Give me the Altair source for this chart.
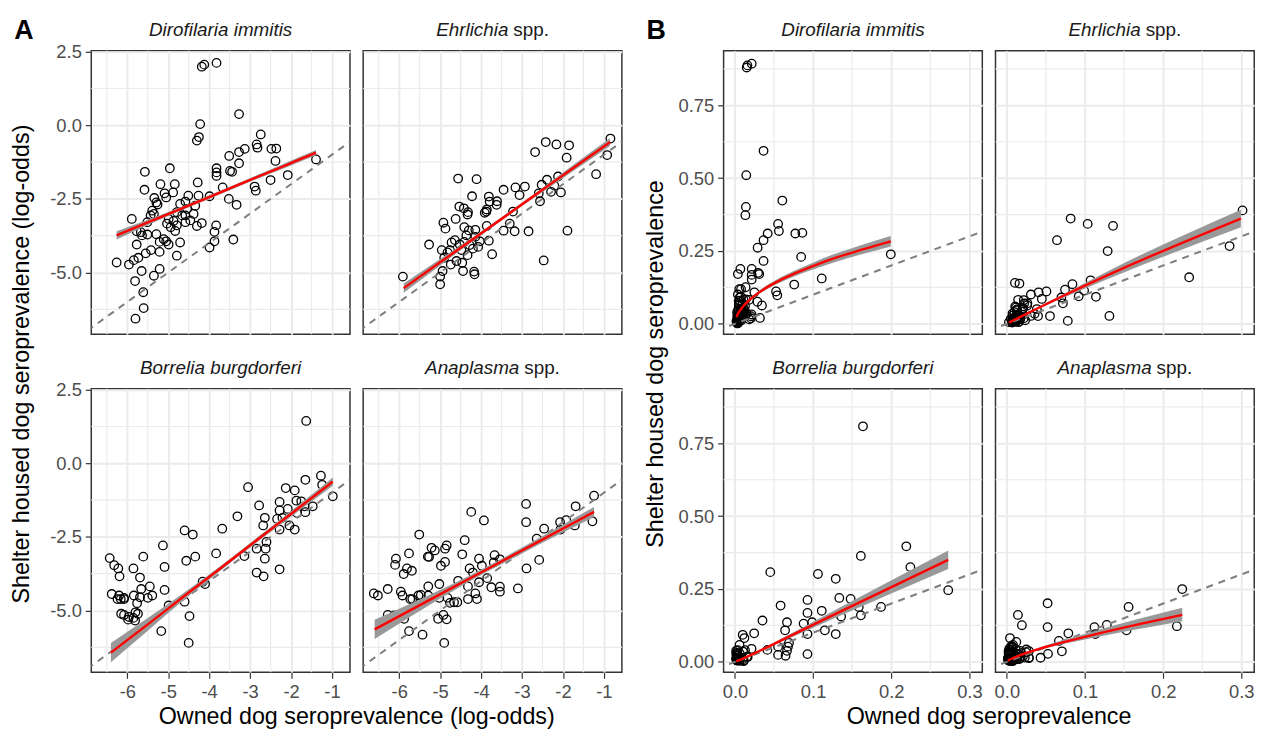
import altair as alt
import pandas as pd

FONT = "Liberation Sans"
W, H = 261, 286

# ---- points (log-odds): (owned, shelter) ----
dir_pts = [(-3.82, 2.12), (-4.18, 1.99), (-4.12, 2.06), (-3.27, 0.38), (-4.22, 0.04), (-4.25, -0.40),
           (-4.30, -0.52), (-2.74, -0.31), (-3.13, -0.80), (-3.27, -0.91), (-2.84, -0.65), (-2.82, -0.76),
           (-2.48, -0.80), (-2.36, -0.79), (-2.38, -1.21), (-1.39, -1.16), (-2.08, -1.69), (-2.50, -1.86),
           (-2.89, -2.08), (-2.86, -2.22), (-3.27, -1.29), (-3.51, -1.04), (-3.49, -1.55), (-3.44, -1.58),
           (-3.82, -1.46), (-3.82, -1.60), (-3.82, -1.72), (-3.67, -2.11), (-3.52, -2.50), (-3.33, -2.70),
           (-3.99, -2.41), (-4.28, -1.94), (-3.41, -3.88), (-3.83, -3.40), (-3.87, -3.62), (-3.87, -3.94),
           (-3.99, -4.15), (-4.96, -1.46), (-4.84, -2.00), (-4.88, -2.28), (-5.09, -2.31), (-5.19, -2.00),
           (-5.34, -2.47), (-5.26, -2.69), (-5.29, -2.62), (-5.39, -2.90), (-5.35, -3.01), (-5.57, -1.58),
           (-5.58, -2.19), (-5.89, -3.18), (-5.77, -3.60), (-5.67, -3.63), (-5.64, -3.74), (-5.51, -3.71),
           (-5.51, -3.29), (-5.43, -3.06), (-5.77, -4.05), (-5.55, -4.35), (-5.73, -4.50), (-5.84, -4.58),
           (-5.96, -4.73), (-6.26, -4.66), (-5.42, -4.24), (-5.29, -3.70), (-5.21, -4.30), (-5.21, -3.96),
           (-5.11, -3.87), (-4.99, -4.05), (-5.05, -3.94), (-5.35, -5.11), (-5.21, -4.88), (-5.65, -4.95),
           (-5.81, -5.29), (-5.61, -5.67), (-5.60, -6.21), (-5.80, -6.57), (-4.79, -4.43), (-4.71, -3.98),
           (-5.03, -3.34), (-4.94, -3.46), (-4.83, -3.59), (-4.79, -3.40), (-4.87, -3.25), (-4.99, -3.18),
           (-4.66, -3.06), (-4.58, -3.06), (-4.54, -2.84), (-4.46, -3.23), (-4.38, -3.01), (-4.34, -2.73),
           (-4.30, -3.42), (-4.18, -3.32), (-4.26, -2.39), (-4.51, -2.39), (-4.58, -2.59), (-4.71, -2.67),
           (-4.79, -2.95), (-4.58, -3.29), (-5.05, -2.45)]

ehr_pts = [(-0.84, -0.45), (-0.92, -1.01), (-1.19, -1.66), (-1.89, -3.58), (-2.42, -0.57), (-2.16, -0.65),
           (-1.85, -0.68), (-2.68, -0.91), (-1.91, -1.10), (-2.12, -1.74), (-2.39, -1.85), (-2.52, -2.02),
           (-2.59, -2.31), (-2.56, -2.58), (-2.29, -2.26), (-2.05, -2.28), (-2.21, -2.05), (-2.93, -2.08),
           (-3.06, -2.37), (-3.16, -2.11), (-3.45, -2.19), (-3.22, -2.93), (-3.30, -3.34), (-3.45, -3.58),
           (-3.18, -3.60), (-2.84, -3.60), (-2.47, -4.59), (-3.73, -4.38), (-3.81, -3.92), (-3.86, -3.42),
           (-3.61, -2.58), (-3.79, -2.59), (-3.62, -2.70), (-3.86, -2.86), (-3.91, -2.97), (-4.11, -1.83),
           (-4.56, -1.81), (-4.22, -2.41), (-4.53, -2.76), (-4.42, -2.82), (-4.32, -2.95), (-4.33, -3.03),
           (-4.62, -3.18), (-4.92, -3.31), (-4.87, -3.51), (-4.41, -3.46), (-4.30, -3.57), (-4.14, -3.55),
           (-4.14, -3.79), (-4.36, -3.74), (-4.41, -3.96), (-4.28, -4.07), (-4.03, -3.94), (-4.20, -4.19),
           (-4.33, -4.41), (-4.48, -4.24), (-4.72, -3.98), (-4.76, -4.24), (-4.82, -4.32), (-4.90, -4.50),
           (-4.74, -4.73), (-4.60, -4.61), (-4.46, -4.67), (-4.44, -4.95), (-4.17, -4.97), (-4.16, -5.06),
           (-4.94, -4.95), (-5.00, -5.14), (-5.00, -5.40), (-5.27, -4.05), (-5.91, -5.14), (-3.81, -2.42),
           (-3.87, -2.93), (-4.96, -4.24), (-4.64, -3.90), (-4.52, -4.05), (-4.07, -4.13)]

bor_pts = [(-1.63, 1.44), (-1.27, -0.42), (-1.24, -0.73), (-0.98, -1.12), (-1.65, -0.56), (-2.13, -0.84),
           (-1.91, -0.92), (-3.05, -0.81), (-1.87, -1.27), (-1.75, -1.29), (-1.67, -1.46), (-1.47, -1.46),
           (-1.85, -1.69), (-1.65, -1.66), (-2.08, -1.55), (-2.28, -1.31), (-2.28, -1.60), (-2.34, -1.89),
           (-2.21, -1.85), (-2.04, -2.11), (-2.28, -2.25), (-1.91, -2.25), (-2.64, -1.85), (-2.68, -2.11),
           (-2.78, -1.43), (-3.31, -1.80), (-2.60, -2.67), (-2.84, -2.90), (-2.62, -2.90), (-2.64, -3.24),
           (-3.14, -3.15), (-2.28, -3.60), (-2.84, -3.71), (-2.67, -3.84), (-3.68, -2.22), (-3.83, -3.06),
           (-4.16, -4.02), (-4.10, -4.10), (-4.60, -2.28), (-4.40, -2.42), (-4.56, -3.31), (-4.34, -3.17),
           (-5.13, -2.79), (-5.09, -3.52), (-5.09, -4.30), (-4.99, -4.83), (-4.60, -4.70), (-4.48, -5.19),
           (-4.50, -6.10), (-5.17, -5.70), (-5.61, -3.17), (-5.85, -3.57), (-5.69, -3.88), (-5.45, -4.18),
           (-5.66, -4.27), (-5.39, -4.49), (-5.50, -4.57), (-5.69, -4.55), (-5.84, -4.49), (-5.76, -4.75),
           (-5.80, -5.06), (-5.74, -5.11), (-5.85, -5.25), (-5.81, -5.34), (-5.96, -5.22), (-6.08, -5.15),
           (-6.15, -5.11), (-5.98, -5.31), (-6.08, -4.57), (-6.20, -4.49), (-6.24, -4.61), (-6.16, -4.61),
           (-6.08, -4.61), (-6.38, -4.44), (-6.19, -3.84), (-6.22, -3.57), (-6.32, -3.46), (-6.43, -3.22)]

ana_pts = [(-1.24, -1.10), (-1.28, -1.97), (-1.69, -1.46), (-1.71, -2.11), (-1.92, -1.93), (-2.07, -2.00),
           (-2.06, -2.25), (-2.46, -2.22), (-2.64, -2.56), (-2.58, -3.28), (-2.90, -1.38), (-2.90, -2.00),
           (-2.89, -3.57), (-3.10, -4.25), (-3.54, -4.19), (-3.54, -4.36), (-3.75, -4.21), (-3.85, -3.90),
           (-3.54, -3.26), (-3.67, -3.12), (-3.69, -3.37), (-3.93, -1.94), (-4.24, -1.65), (-4.40, -2.61),
           (-4.46, -3.09), (-4.28, -3.57), (-4.05, -3.24), (-3.98, -3.48), (-4.20, -3.71), (-4.05, -4.04),
           (-4.32, -4.18), (-4.14, -4.42), (-4.10, -4.61), (-4.32, -4.61), (-4.56, -3.99), (-4.84, -2.79),
           (-4.88, -2.90), (-4.88, -3.35), (-4.98, -3.48), (-5.02, -4.10), (-5.02, -4.57), (-4.82, -4.57),
           (-4.66, -4.72), (-4.76, -4.74), (-5.05, -5.28), (-4.92, -5.15), (-4.84, -5.30), (-4.90, -6.10),
           (-5.21, -2.87), (-5.13, -2.96), (-5.30, -3.17), (-5.27, -3.18), (-5.51, -2.42), (-5.29, -4.18),
           (-5.47, -4.47), (-5.68, -4.61), (-5.73, -4.61), (-5.76, -3.06), (-5.81, -3.57), (-5.69, -3.65),
           (-5.89, -3.76), (-6.08, -3.24), (-6.10, -3.45), (-5.96, -4.36), (-5.92, -4.49), (-5.88, -5.28),
           (-6.12, -5.17), (-6.28, -5.15), (-6.28, -4.27), (-6.62, -4.42), (-6.52, -4.49), (-5.76, -5.70),
           (-5.43, -5.82), (-5.29, -4.49), (-5.53, -4.49), (-4.58, -4.72)]

# ---- fitted lines and confidence bands (log-odds) ----
dir_fit_x = [-6.26, -5.5, -4.75, -4.0, -3.25, -2.8, -2.5, -2.2, -1.95, -1.65, -1.39]
dir_fit_y = [-3.74, -3.30, -2.87, -2.44, -2.00, -1.74, -1.57, -1.40, -1.25, -1.08, -0.93]
dir_fit_lo = [-3.88, -3.39, -2.93, -2.50, -2.06, -1.805, -1.64, -1.475, -1.33, -1.165, -1.02]
dir_fit_hi = [-3.60, -3.21, -2.81, -2.38, -1.94, -1.675, -1.50, -1.325, -1.17, -0.995, -0.84]

ehr_fit_x = [-5.89, -5.0, -4.2, -3.4, -2.6, -1.8, -0.85]
ehr_fit_y = [-5.53, -4.65, -3.87, -3.08, -2.29, -1.50, -0.57]
ehr_fit_lo = [-5.69, -4.76, -3.94, -3.14, -2.36, -1.60, -0.70]
ehr_fit_hi = [-5.37, -4.54, -3.80, -3.02, -2.22, -1.40, -0.44]

bor_fit_x = [-6.40, -5.5, -4.6, -3.7, -2.8, -1.9, -0.98]
bor_fit_y = [-6.43, -5.47, -4.50, -3.54, -2.57, -1.61, -0.62]
bor_fit_lo = [-6.76, -5.69, -4.62, -3.62, -2.65, -1.71, -0.76]
bor_fit_hi = [-6.10, -5.25, -4.38, -3.46, -2.49, -1.51, -0.48]

ana_fit_x = [-6.60, -5.7, -4.8, -3.9, -3.0, -2.1, -1.24]
ana_fit_y = [-5.64, -4.97, -4.30, -3.63, -2.96, -2.29, -1.65]
ana_fit_lo = [-5.97, -5.19, -4.43, -3.72, -3.06, -2.42, -1.82]
ana_fit_hi = [-5.31, -4.75, -4.17, -3.54, -2.86, -2.16, -1.48]

# ---- axes ----
a_x_domain = [-6.88, -0.56]
a_y_domain = [-7.1, 2.53]
a_x_ticks = [-6, -5, -4, -3, -2, -1]
a_y_ticks = [2.5, 0.0, -2.5, -5.0]
a_x_minor = [-6.5, -5.5, -4.5, -3.5, -2.5, -1.5]
a_y_minor = [1.25, -1.25, -3.75, -6.25]
a_diag = [-8, 3]

b_x_domain = [-0.0145, 0.3165]
b_y_domain = [-0.036, 0.937]
b_x_ticks = [0.0, 0.1, 0.2, 0.3]
b_y_ticks = [0.0, 0.25, 0.5, 0.75]
b_x_minor = [0.05, 0.15, 0.25]
b_y_minor = [0.125, 0.375, 0.625, 0.875]
b_diag = [-0.1, 1.0]

titles = {
    "dir": [("Dirofilaria immitis", "italic", 0, "center")],
    "ehr": [("Ehrlichia", "italic", 16, "right"), ("spp.", "normal", 21, "left")],
    "bor": [("Borrelia burgdorferi", "italic", 0, "center")],
    "ana": [("Anaplasma", "italic", 27, "right"), ("spp.", "normal", 32, "left")],
}

MINUS = "\u2212"


def panel(pts, fx, fy, flo, fhi, key, prob, show_x, show_y, xtitle=None, ytitle=None, letter=None):
    if prob:
        xd, yd, xt, yt, xm, ym, dg = b_x_domain, b_y_domain, b_x_ticks, b_y_ticks, b_x_minor, b_y_minor, b_diag
        xf, yf = ".1f", ".2f"
        tf = "1/(1+exp(-datum.{}))"
    else:
        xd, yd, xt, yt, xm, ym, dg = a_x_domain, a_y_domain, a_x_ticks, a_y_ticks, a_x_minor, a_y_minor, a_diag
        xf, yf = "d", ".1f"
        tf = "datum.{}"

    common = dict(grid=True, gridColor="#EBEBEB", gridWidth=2, domain=False,
                  tickSize=6, tickColor="#333333", tickWidth=1.2, labelPadding=4,
                  labelFontSize=18.5, labelColor="#4D4D4D", labelFont=FONT,
                  labelOverlap=False, labelFlush=False)
    xa = dict(common, values=xt, labels=show_x, ticks=show_x,
              labelExpr=f"replace(format(datum.value, '{xf}'), '{MINUS}', '-')")
    ya = dict(common, values=yt, labels=show_y, ticks=show_y,
              labelExpr=f"replace(format(datum.value, '{yf}'), '{MINUS}', '-')")
    tstyle = dict(titleFont=FONT, titleFontSize=23.5, titleColor="black", titleFontWeight="normal",
                  titleAlign="center", titleBaseline="alphabetic")
    if xtitle:
        xa.update(tstyle, title=xtitle, titleX=267.3, titleY=52)
    if ytitle:
        ya.update(tstyle, title=ytitle, titleX=(-63.3 if not prob else -61.5), titleY=315.5, titleAngle=270)
    xaxis = alt.Axis(**xa)
    yaxis = alt.Axis(**ya)
    xs = alt.Scale(domain=xd, nice=False, zero=False)
    ys = alt.Scale(domain=yd, nice=False, zero=False)

    def X(f):
        if xtitle:
            return alt.X(f, type="quantitative", scale=xs, axis=xaxis)
        return alt.X(f, type="quantitative", scale=xs, axis=xaxis, title=None)

    def Y(f):
        if ytitle:
            return alt.Y(f, type="quantitative", scale=ys, axis=yaxis)
        return alt.Y(f, type="quantitative", scale=ys, axis=yaxis, title=None)

    pdf = pd.DataFrame(pts, columns=["lx", "ly"])
    fdf = pd.DataFrame({"fx": fx, "fy": fy, "flo": flo, "fhi": fhi})
    ddf = pd.DataFrame({"d": dg})

    vminor = alt.Chart(pd.DataFrame({"v": xm})).mark_rule(color="#EBEBEB", strokeWidth=1.2).encode(x=X("v"))
    hminor = alt.Chart(pd.DataFrame({"v": ym})).mark_rule(color="#EBEBEB", strokeWidth=1.2).encode(y=Y("v"))

    points = alt.Chart(pdf).transform_calculate(
        xv=tf.format("lx"), yv=tf.format("ly")
    ).mark_point(shape="circle", filled=False, color="black", size=74, strokeWidth=1.3, opacity=1).encode(
        x=X("xv:Q"), y=Y("yv:Q"))

    diag = alt.Chart(ddf).mark_line(clip=True, color="#7F7F7F", strokeWidth=2, strokeDash=[7, 6]).encode(
        x=X("d:Q"), y=Y("d:Q"))

    fitc = alt.Chart(fdf).transform_calculate(
        xv=tf.format("fx"), yv=tf.format("fy"), lo=tf.format("flo"), hi=tf.format("fhi"))
    band = fitc.mark_area(color="#999999", opacity=1, interpolate="monotone").encode(
        x=X("xv:Q"), y=Y("lo:Q"), y2="hi:Q")
    line = fitc.mark_line(color="#FF0000", strokeWidth=2.4, interpolate="monotone").encode(
        x=X("xv:Q"), y=Y("yv:Q"))

    layers = [vminor, hminor, points, diag, band, line]
    one = pd.DataFrame({"k": [0]})
    for text, style, dx, align in titles[key]:
        layers.append(alt.Chart(one).mark_text(
            text=text, font=FONT, fontSize=19, fontStyle=style, align=align, baseline="alphabetic",
            color="#1A1A1A").encode(x=alt.value(W / 2 + dx), y=alt.value(-14.5)))
    if letter:
        layers.append(alt.Chart(one).mark_text(
            text=letter, font=FONT, fontSize=27, fontWeight="bold", align="center", baseline="alphabetic",
            color="black").encode(x=alt.value(-68), y=alt.value(-11.5)))
        # invisible anchor fixing the top edge of the drawing
        layers.append(alt.Chart(one).mark_rule(opacity=0, strokeWidth=0.01).encode(
            x=alt.value(0), y=alt.value(-38.7), y2=alt.value(-30)))
    return alt.layer(*layers).properties(width=W, height=H)


def spacer():
    return alt.Chart(pd.DataFrame({"k": [0]})).mark_point(opacity=0).encode(
        x=alt.value(0), y=alt.value(0)
    ).properties(width=75.3, height=H, view=alt.ViewBackground(stroke="transparent"))


A_Y = "Shelter housed dog seroprevalence (log-odds)"
A_X = "Owned dog seroprevalence (log-odds)"
B_Y = "Shelter housed dog seroprevalence"
B_X = "Owned dog seroprevalence"

cells = [
    panel(dir_pts, dir_fit_x, dir_fit_y, dir_fit_lo, dir_fit_hi, "dir", False, False, True, ytitle=A_Y, letter="A"),
    panel(ehr_pts, ehr_fit_x, ehr_fit_y, ehr_fit_lo, ehr_fit_hi, "ehr", False, False, False),
    spacer(),
    panel(dir_pts, dir_fit_x, dir_fit_y, dir_fit_lo, dir_fit_hi, "dir", True, False, True, ytitle=B_Y, letter="B"),
    panel(ehr_pts, ehr_fit_x, ehr_fit_y, ehr_fit_lo, ehr_fit_hi, "ehr", True, False, False),
    panel(bor_pts, bor_fit_x, bor_fit_y, bor_fit_lo, bor_fit_hi, "bor", False, True, True, xtitle=A_X),
    panel(ana_pts, ana_fit_x, ana_fit_y, ana_fit_lo, ana_fit_hi, "ana", False, True, False),
    spacer(),
    panel(bor_pts, bor_fit_x, bor_fit_y, bor_fit_lo, bor_fit_hi, "bor", True, True, True, xtitle=B_X),
    panel(ana_pts, ana_fit_x, ana_fit_y, ana_fit_lo, ana_fit_hi, "ana", True, True, False),
]

chart = alt.concat(
    *cells, columns=5, spacing={"row": 55, "column": 13.3}, bounds="flush", align="each"
).properties(
    padding={"left": 0, "top": 0, "right": 0, "bottom": 0}, background="white"
).configure_view(stroke="#333333", strokeWidth=1.5)

chart.save("out.html", embed_options={"renderer": "svg", "actions": False})
